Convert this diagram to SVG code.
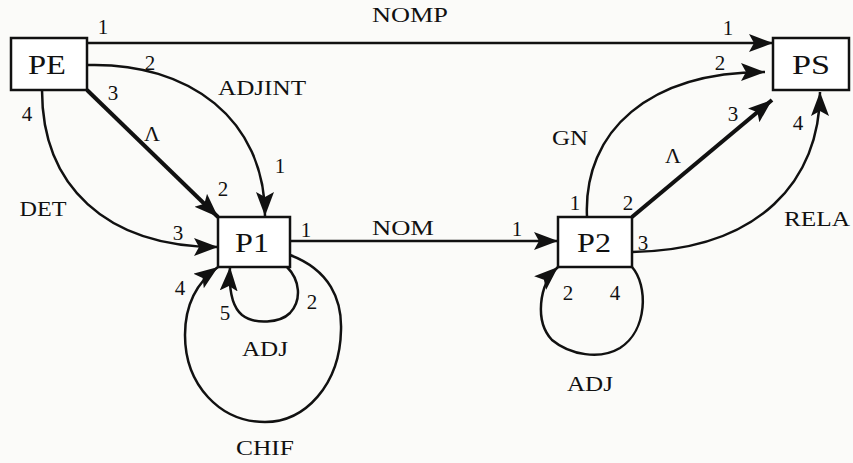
<svg xmlns="http://www.w3.org/2000/svg" width="853" height="463" viewBox="0 0 853 463">
<defs>
<style>
.box{fill:#fff;stroke:#111;stroke-width:2.5}
.node{font-size:28px}
.lbl{font-size:22px}
.num{font-size:21px}
.e{fill:none;stroke:#111;stroke-width:2.5}
.t{fill:none;stroke:#111;stroke-width:4}
</style>
<marker id="ah" markerUnits="userSpaceOnUse" markerWidth="30" markerHeight="24" refX="24" refY="9" orient="auto">
<path d="M0,0 L24,9 L0,18 L5,9 z" fill="#111"/>
</marker>
</defs>
<rect width="853" height="463" fill="#fbfbf9"/>
<g id="connectors">
<path class="e" d="M87,43 L773,43" marker-end="url(#ah)"/>
<path class="e" d="M87,65 C190,62 265,120 265,216" marker-end="url(#ah)"/>
<path class="t" d="M87,90 L218,217" marker-end="url(#ah)"/>
<path class="e" d="M42,90 C42,185 105,247 218,247" marker-end="url(#ah)"/>
<path class="e" d="M290,255 C330,270 342,300 341,330 C340,385 305,422 265,422 C220,422 185,385 185,335 C185,300 200,280 218,267" marker-end="url(#ah)"/>
<path class="e" d="M287,267 C300,280 302,300 290,313 C280,323 255,325 242,315 C230,305 229,285 230,267" marker-end="url(#ah)"/>
<path class="e" d="M290,241 L558,241" marker-end="url(#ah)"/>
<path class="e" d="M632,267 C648,285 648,330 620,348 C600,360 570,355 552,340 C535,322 538,285 558,267" marker-end="url(#ah)"/>
<path class="e" d="M587,217 C583,130 650,72 765,72" marker-end="url(#ah)"/>
<path class="t" d="M632,217 L772,100" marker-end="url(#ah)"/>
<path class="e" d="M632,252 C760,250 820,180 820,92" marker-end="url(#ah)"/>
</g>
<g font-family="Liberation Serif, serif" fill="#111" text-anchor="middle">
<g id="PE"><rect class="box" x="11" y="38" width="76" height="52"/><text class="node" x="47" y="74" textLength="38" lengthAdjust="spacingAndGlyphs">PE</text></g>
<g id="PS"><rect class="box" x="773" y="38" width="76" height="52"/><text class="node" x="811" y="74" textLength="38" lengthAdjust="spacingAndGlyphs">PS</text></g>
<g id="P1"><rect class="box" x="218" y="217" width="72" height="50"/><text class="node" x="252" y="252" textLength="34" lengthAdjust="spacingAndGlyphs">P1</text></g>
<g id="P2"><rect class="box" x="558" y="217" width="74" height="50"/><text class="node" x="594" y="252" textLength="34" lengthAdjust="spacingAndGlyphs">P2</text></g>
<g id="labels">
<text class="lbl" x="410" y="22" textLength="76" lengthAdjust="spacingAndGlyphs">NOMP</text>
<text class="lbl" x="262" y="95" textLength="88" lengthAdjust="spacingAndGlyphs">ADJINT</text>
<text class="lbl" x="152" y="141">Λ</text>
<text class="lbl" x="43" y="216" textLength="47" lengthAdjust="spacingAndGlyphs">DET</text>
<text class="lbl" x="265" y="356" textLength="46" lengthAdjust="spacingAndGlyphs">ADJ</text>
<text class="lbl" x="265" y="455" textLength="58" lengthAdjust="spacingAndGlyphs">CHIF</text>
<text class="lbl" x="403" y="235" textLength="62" lengthAdjust="spacingAndGlyphs">NOM</text>
<text class="lbl" x="570" y="145" textLength="36" lengthAdjust="spacingAndGlyphs">GN</text>
<text class="lbl" x="673" y="163">Λ</text>
<text class="lbl" x="817" y="226" textLength="66" lengthAdjust="spacingAndGlyphs">RELA</text>
<text class="lbl" x="590" y="391" textLength="46" lengthAdjust="spacingAndGlyphs">ADJ</text>
<text class="num" x="103" y="34">1</text>
<text class="num" x="150" y="70">2</text>
<text class="num" x="113" y="100">3</text>
<text class="num" x="27" y="121">4</text>
<text class="num" x="280" y="173">1</text>
<text class="num" x="223" y="196">2</text>
<text class="num" x="178" y="240">3</text>
<text class="num" x="180" y="295">4</text>
<text class="num" x="225" y="320">5</text>
<text class="num" x="312" y="309">2</text>
<text class="num" x="306" y="237">1</text>
<text class="num" x="517" y="236">1</text>
<text class="num" x="575" y="210">1</text>
<text class="num" x="628" y="210">2</text>
<text class="num" x="643" y="250">3</text>
<text class="num" x="568" y="300">2</text>
<text class="num" x="615" y="300">4</text>
<text class="num" x="728" y="35">1</text>
<text class="num" x="720" y="70">2</text>
<text class="num" x="733" y="121">3</text>
<text class="num" x="798" y="130">4</text>
</g>
</g>
</svg>
